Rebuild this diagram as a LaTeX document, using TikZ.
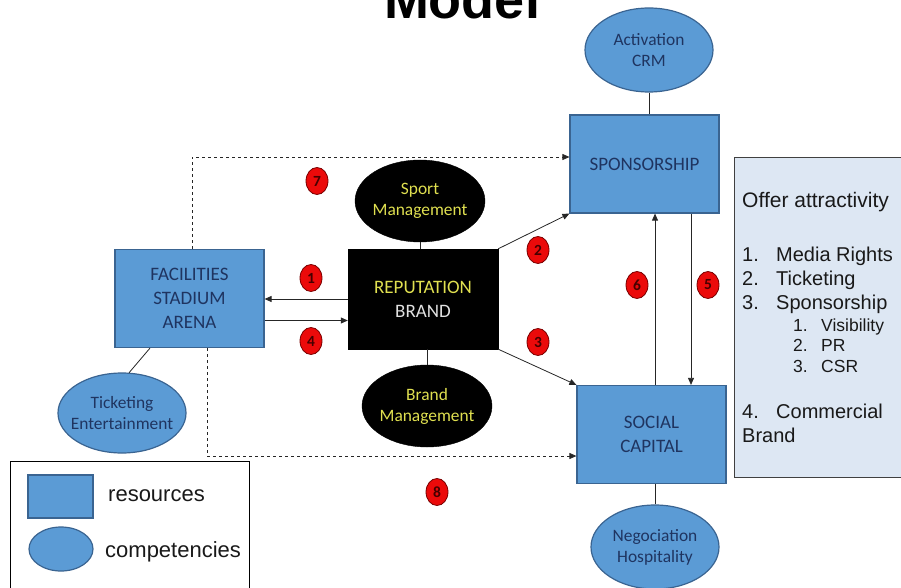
\documentclass[tikz,border=0pt]{standalone}
\usepackage{fontspec}
\setmainfont{Liberation Sans}
\newfontfamily\calfont{Carlito}
\usetikzlibrary{shapes.geometric,arrows.meta}
\definecolor{boxblue}{RGB}{91,155,213}
\definecolor{boxedge}{RGB}{58,100,145}
\definecolor{navy}{RGB}{31,52,96}
\definecolor{offerfill}{RGB}{221,231,243}
\definecolor{ylw}{RGB}{224,224,80}
\definecolor{brandgray}{RGB}{225,225,225}
\definecolor{badgered}{RGB}{235,10,10}
\definecolor{badgeedge}{RGB}{120,0,0}
\definecolor{badgetext}{RGB}{70,0,0}
\newcommand{\zw}[1]{\makebox[0pt]{#1}}
\tikzset{
  res/.style={draw=boxedge, fill=boxblue, line width=1.2pt, minimum width=149pt, minimum height=98pt,
    inner sep=0pt, font=\calfont\fontsize{19}{24}\selectfont, text=navy, align=center},
  comp/.style={ellipse, draw=boxedge, fill=boxblue, line width=1.2pt, minimum width=128pt, minimum height=84pt,
    inner sep=0pt, font=\calfont\fontsize{17.4}{21}\selectfont, text=navy, align=center},
  blkcomp/.style={ellipse, draw=black, fill=black, minimum width=130pt, minimum height=82pt,
    inner sep=0pt, font=\calfont\fontsize{17.4}{21}\selectfont, text=ylw, align=center},
  badge/.style={ellipse, draw=badgeedge, fill=badgered, line width=0.8pt, minimum width=22pt, minimum height=27pt,
    inner sep=0pt, font=\calfont\bfseries\fontsize{15.5}{15.5}\selectfont, text=badgetext},
  conn/.style={line width=0.8pt, draw=black!85},
  arr/.style={conn, -{Triangle[length=7pt,width=6pt]}},
  offtxt/.style={anchor=base west, inner sep=0pt, font=\fontsize{20}{24}\selectfont, text=black!90},
  subtxt/.style={anchor=base west, inner sep=0pt, font=\fontsize{17.5}{20}\selectfont, text=black!90},
  legtxt/.style={anchor=base west, inner sep=0pt, font=\fontsize{22}{26}\selectfont, text=black!90}
}
\begin{document}
\begin{tikzpicture}[x=1pt,y=-1pt]
\useasboundingbox (0,0) rectangle (901,588);
\clip (0,0) rectangle (901,588);

% title
\node[anchor=base, inner sep=0pt, font=\bfseries\fontsize{54}{54}\selectfont] (title) at (462,19) {Model};

% boxes
\node[res] (sponsor) at (644.5,164) {SPONSORSHIP};
\node[res] (facil) at (189.5,298.5) {FACILITIES\\STADIUM\\ARENA};
\node[res] (social) at (651.5,434.5) {SOCIAL\\CAPITAL};
\node[draw=black, fill=black, minimum width=150pt, minimum height=100pt, inner sep=0pt,
      font=\calfont\fontsize{19}{24}\selectfont, align=center] (rep) at (423,299)
      {\textcolor{ylw}{REPUTATION}\\\textcolor{brandgray}{BRAND}};

% ellipses
\node[comp] (act) at (649,50) {\zw{Activation}\\\zw{CRM}};
\node[comp, minimum height=80pt] (ticket) at (122,413) {\zw{Ticketing}\\\zw{Entertainment}};
\node[comp] (nego) at (655,547) {\zw{Negociation}\\\zw{Hospitality}};
\node[blkcomp] (sport) at (420,201) {\zw{Sport}\\\zw{Management}};
\node[blkcomp] (brandm) at (427,406) {\zw{Brand}\\\zw{Management}};

% plain links
\draw[conn] (act.south) -- (act.south |- sponsor.north);
\draw[conn] (sport.south) -- (sport.south |- rep.north);
\draw[conn] (brandm.north) -- (brandm.north |- rep.south);
\draw[conn] ([xshift=-39.5pt]facil.south) -- (ticket.80);
\draw[conn] (nego.north) -- (nego.north |- social.south);

% arrows
\draw[arr] (rep.west) -- (rep.west -| facil.east);
\draw[arr] ([yshift=-22pt]facil.east) -- ([yshift=-22pt]facil.east -| rep.west);
\draw[arr] (rep.north east) -- (sponsor.south west);
\draw[arr] (rep.south east) -- (social.north west);
\draw[arr] ([xshift=3.5pt]social.north) -- ([xshift=3.5pt]social.north |- sponsor.south);
\draw[arr] ([xshift=46.5pt]sponsor.south) -- ([xshift=46.5pt]sponsor.south |- social.north);
\draw[arr, dashed] ([xshift=2.5pt]facil.north) |- ([yshift=7pt]sponsor.west);
\draw[arr, dashed] ([xshift=17.5pt]facil.south) |- ([yshift=-21.5pt]social.west);

% badges
\node[badge] (b7) at (317,181) {7};
\node[badge] (b1) at (311,278) {1};
\node[badge] (b4) at (311,341) {4};
\node[badge] (b2) at (538,250) {2};
\node[badge] (b3) at (538,342) {3};
\node[badge] (b6) at (637,285) {6};
\node[badge] (b5) at (708,285) {5};
\node[badge] (b8) at (437,492) {8};

% offer attractivity panel
\node[draw=black!75, fill=offerfill, line width=1pt, anchor=north west, minimum width=180pt,
      minimum height=320pt, inner sep=0pt] (offer) at (734,157) {};
\node[offtxt, font=\fontsize{21}{24}\selectfont] (o0) at (742,207.5) {Offer attractivity};
\node[offtxt] (n1) at (742,261) {1.};
\node[offtxt] (t1) at (776,261) {Media Rights};
\node[offtxt] (n2) at (742,285) {2.};
\node[offtxt] (t2) at (776,285) {Ticketing};
\node[offtxt] (n3) at (742,309) {3.};
\node[offtxt] (t3) at (776,309) {Sponsorship};
\node[subtxt] (s1n) at (793,331) {1.};
\node[subtxt] (s1) at (821,331) {Visibility};
\node[subtxt] (s2n) at (793,351) {2.};
\node[subtxt] (s2) at (821,351) {PR};
\node[subtxt] (s3n) at (793,372) {3.};
\node[subtxt] (s3) at (821,372) {CSR};
\node[offtxt] (n4) at (742,418) {4.};
\node[offtxt] (t4) at (776,418) {Commercial};
\node[offtxt] (t5) at (742,442) {Brand};

% legend
\node[draw=black, line width=0.8pt, anchor=north west, minimum width=239pt, minimum height=140pt,
      inner sep=0pt] (legend) at (10,461) {};
\node[draw=boxedge, fill=boxblue, line width=1.2pt, minimum width=65pt, minimum height=43pt,
      inner sep=0pt] (lres) at (60.5,496.5) {};
\node[ellipse, draw=boxedge, fill=boxblue, line width=1.2pt, minimum width=64pt, minimum height=44pt,
      inner sep=0pt] (lcomp) at (61,549) {};
\node[legtxt] (lrestxt) at (108,501) {resources};
\node[legtxt] (lcomptxt) at (105,557) {competencies};
\end{tikzpicture}
\end{document}
